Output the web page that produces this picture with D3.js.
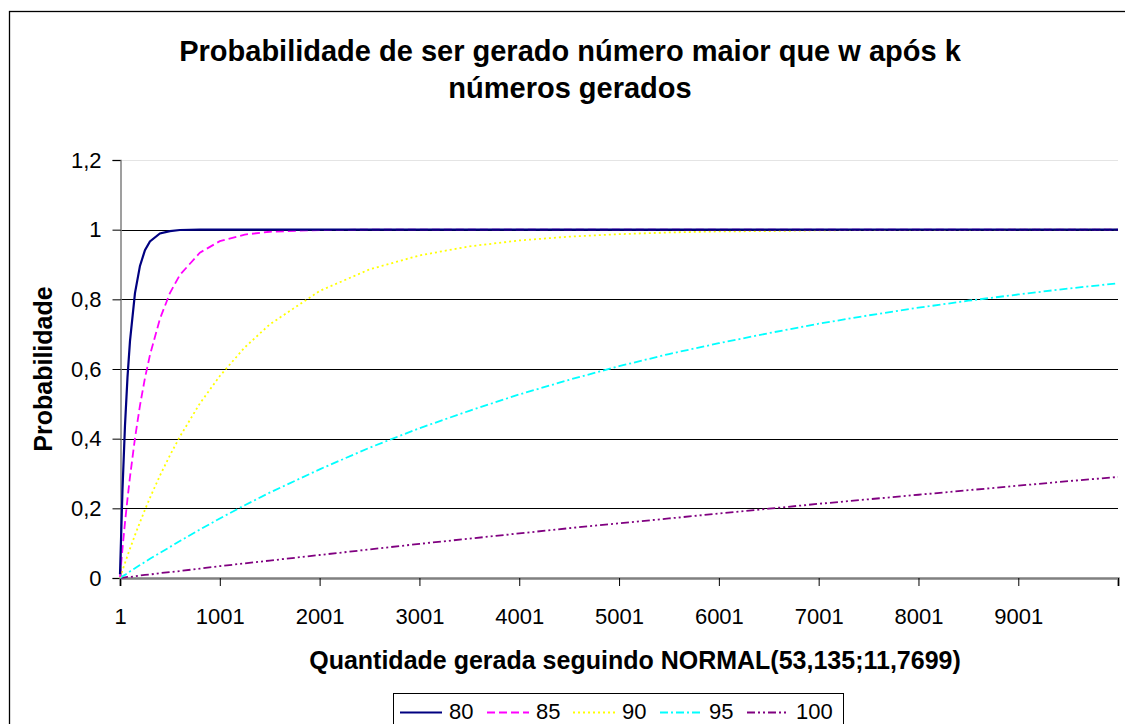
<!DOCTYPE html>
<html>
<head>
<meta charset="utf-8">
<script src="https://cdn.jsdelivr.net/npm/d3@7"></script>
<style>
  body { margin: 0; background: #fff; }
  text { font-family: "Liberation Sans", Arial, sans-serif; }
</style>
</head>
<body>
<svg id="chart" width="1125" height="724"></svg>
<script>
// quantidade gerada (k)
var ks = [1, 26, 51, 76, 101, 151, 201, 251, 301, 401, 501, 601, 801, 1001, 1251, 1501,
  2001, 2501, 3001, 3501, 4001, 4501, 5001, 5501, 6001, 6501, 7001, 7501, 8001, 8501, 9001, 9501, 10000];

// probabilidade, por serie
var p80 = [0.011, 0.254, 0.438, 0.576, 0.680, 0.818, 0.896, 0.941, 0.966, 0.989, 0.996, 0.999, 1, 1, 1, 1,
  1, 1, 1, 1, 1, 1, 1, 1, 1, 1, 1, 1, 1, 1, 1, 1, 1];
var p85 = [0.003, 0.085, 0.159, 0.227, 0.290, 0.401, 0.495, 0.574, 0.640, 0.744, 0.818, 0.870, 0.934, 0.967, 0.986, 0.994,
  0.999, 1, 1, 1, 1, 1, 1, 1, 1, 1, 1, 1, 1, 1, 1, 1, 1];
var p90 = [0.001, 0.022, 0.043, 0.064, 0.084, 0.123, 0.160, 0.196, 0.230, 0.294, 0.352, 0.406, 0.501, 0.580, 0.662, 0.728,
  0.824, 0.886, 0.926, 0.952, 0.969, 0.980, 0.987, 0.992, 0.995, 0.996, 0.998, 0.999, 0.999, 0.999, 1, 1, 1];
var p95 = [0, 0.005, 0.009, 0.014, 0.019, 0.028, 0.037, 0.046, 0.055, 0.072, 0.089, 0.106, 0.139, 0.171, 0.209, 0.245,
  0.312, 0.374, 0.430, 0.480, 0.527, 0.569, 0.608, 0.643, 0.674, 0.703, 0.730, 0.754, 0.776, 0.796, 0.814, 0.831, 0.846];
var p100 = [0, 0.001, 0.002, 0.003, 0.003, 0.005, 0.007, 0.009, 0.010, 0.014, 0.017, 0.020, 0.027, 0.034, 0.042, 0.050,
  0.066, 0.082, 0.098, 0.113, 0.128, 0.143, 0.157, 0.171, 0.185, 0.199, 0.213, 0.226, 0.239, 0.252, 0.265, 0.278, 0.290];

var seriesNames = ["80", "85", "90", "95", "100"];
var seriesValues = [p80, p85, p90, p95, p100];
var seriesColors = ["#000080", "#ff00ff", "#ffff00", "#00ffff", "#800080"];
var seriesDash = [null, "8,4", "2,3", "8,3,2,3", "8,3,2,3,2,3"];

var xTicks = [1, 1001, 2001, 3001, 4001, 5001, 6001, 7001, 8001, 9001, 10000];
var yTicks = [0, 0.2, 0.4, 0.6, 0.8, 1, 1.2];

var svg = d3.select("#chart");

// moldura externa
svg.append("rect")
  .attr("x", 9.5).attr("y", 11.5)
  .attr("width", 1130).attr("height", 730)
  .attr("fill", "none").attr("stroke", "#000").attr("stroke-width", 1.3);

var x = d3.scaleLinear().domain([1, 10000]).range([120, 1118]);
var y = d3.scaleLinear().domain([0, 1.2]).range([578, 160]);

var pt = d3.formatLocale({ decimal: ",", thousands: ".", grouping: [3], currency: ["", ""] });
var fmtY = function (d) { return pt.format("~g")(d); };

// grade horizontal
svg.append("g").selectAll("line")
  .data(yTicks.filter(function (d) { return d > 0; }))
  .enter().append("line")
  .attr("x1", 120).attr("x2", 1118)
  .attr("y1", function (d) { return Math.round(y(d)) + 0.5; })
  .attr("y2", function (d) { return Math.round(y(d)) + 0.5; })
  .attr("stroke", function (d) { return d > 1.1 ? "#e4e4e4" : "#000"; })
  .attr("stroke-width", 1);

// eixo y
var yAxis = svg.append("g")
  .attr("transform", "translate(120.5,0)")
  .call(d3.axisLeft(y).tickValues(yTicks).tickFormat(fmtY).tickSize(8).tickPadding(11));
yAxis.select(".domain").attr("stroke", "#808080").attr("stroke-width", 1.5);
yAxis.selectAll(".tick line").attr("stroke", "#000");
yAxis.selectAll("text").attr("font-size", 22).attr("fill", "#000")
  .attr("font-family", "Liberation Sans, Arial, sans-serif");

// eixo x
var xAxis = svg.append("g")
  .attr("transform", "translate(0,578)")
  .call(d3.axisBottom(x).tickValues(xTicks)
    .tickFormat(function (d) { return d === 10000 ? "" : d; })
    .tickSize(8).tickPadding(22));
xAxis.select(".domain").attr("stroke", "#808080").attr("stroke-width", 2.5);
xAxis.selectAll(".tick line").attr("stroke", "#000");
xAxis.selectAll("text").attr("font-size", 22).attr("fill", "#000")
  .attr("font-family", "Liberation Sans, Arial, sans-serif");

// curvas
var line = d3.line()
  .x(function (d, i) { return x(ks[i]); })
  .y(function (d) { return y(d); });

svg.append("g").selectAll("path")
  .data(seriesValues.slice().reverse())
  .enter().append("path")
  .attr("d", line)
  .attr("fill", "none")
  .attr("stroke", function (d, i) { return seriesColors[4 - i]; })
  .attr("stroke-width", function (d, i) { return i === 4 ? 2.2 : 1.8; })
  .attr("stroke-dasharray", function (d, i) { return seriesDash[4 - i]; });

// titulo
var title = svg.append("text")
  .attr("x", 570).attr("y", 61)
  .attr("text-anchor", "middle")
  .attr("font-size", 29).attr("font-weight", "bold");
title.append("tspan").attr("x", 570).text("Probabilidade de ser gerado número maior que w após k");
title.append("tspan").attr("x", 570).attr("dy", 37).text("números gerados");

// titulos dos eixos
svg.append("text")
  .attr("x", 635).attr("y", 669)
  .attr("text-anchor", "middle")
  .attr("font-size", 25).attr("font-weight", "bold")
  .text("Quantidade gerada seguindo NORMAL(53,135;11,7699)");

svg.append("text")
  .attr("transform", "translate(52,369) rotate(-90)")
  .attr("text-anchor", "middle")
  .attr("font-size", 25).attr("font-weight", "bold")
  .text("Probabilidade");

// legenda
var legend = svg.append("g").attr("transform", "translate(393,693)");
legend.append("rect")
  .attr("x", 0.5).attr("y", 0.5).attr("width", 450).attr("height", 40)
  .attr("fill", "#fff").attr("stroke", "#000").attr("stroke-width", 1);

var itemX = [7, 94, 180, 267, 354];
var item = legend.selectAll(".item")
  .data(seriesNames)
  .enter().append("g")
  .attr("class", "item")
  .attr("transform", function (d, i) { return "translate(" + itemX[i] + ",0)"; });
item.append("line")
  .attr("x1", 0).attr("x2", 42).attr("y1", 19.5).attr("y2", 19.5)
  .attr("stroke", function (d, i) { return seriesColors[i]; })
  .attr("stroke-width", 1.8)
  .attr("stroke-dasharray", function (d, i) { return seriesDash[i]; });
item.append("text")
  .attr("x", 49).attr("y", 26)
  .attr("font-size", 22)
  .text(function (d) { return d; });
</script>
</body>
</html>
